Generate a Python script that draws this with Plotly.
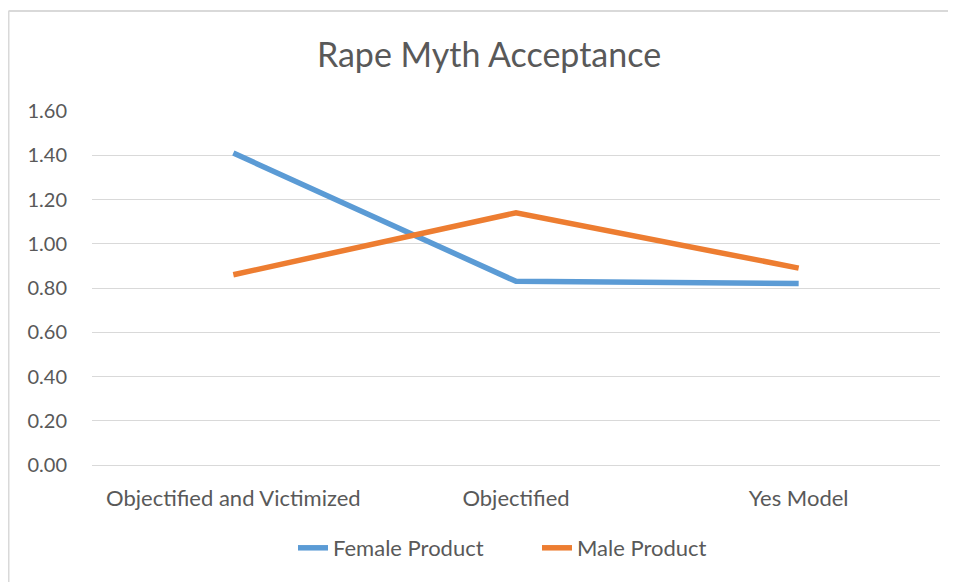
import plotly.graph_objects as go

categories = ["Objectified and Victimized", "Objectified", "Yes Model"]
female_product = [1.41, 0.83, 0.82]
male_product = [0.86, 1.14, 0.89]
y_ticks = [0.0, 0.2, 0.4, 0.6, 0.8, 1.0, 1.2, 1.4, 1.6]

# page body adds an 8px offset; design in screenshot pixels and subtract it
OFF = 8
SW, SH = 956, 582
W, H = SW - OFF, SH - OFF
PL, PR, PT, PB = 92, 940, 111, 465  # plot area in screenshot pixels
L, T = PL - OFF, PT - OFF
R, B = W - (PR - OFF), H - (PB - OFF)
pw, ph = W - L - R, H - T - B

def px_x(x):
    return (x - OFF - L) / pw

def px_y(y):
    return (H - B - (y - OFF)) / ph

FONT = "Lato, Open Sans, sans-serif"
TXT = "#595959"
BORDER = "#d9d9d9"

fig = go.Figure()
fig.add_trace(go.Scatter(x=categories, y=female_product, mode="lines", name="Female Product",
                         line=dict(color="#5b9bd5", width=5.5)))
fig.add_trace(go.Scatter(x=categories, y=male_product, mode="lines", name="Male Product",
                         line=dict(color="#ed7d31", width=5.5)))

fig.update_layout(
    width=W, height=H,
    margin=dict(l=L, r=R, t=T, b=B, pad=0),
    paper_bgcolor="white", plot_bgcolor="white",
    font=dict(family=FONT, color=TXT, size=20),
    title=dict(text="Rape Myth Acceptance", x=(489 - OFF) / W, xanchor="center",
               y=1 - (55 - OFF) / H, yanchor="middle", xref="container", yref="container",
               font=dict(size=34, color=TXT, family=FONT)),
    showlegend=True,
    legend=dict(orientation="h", x=px_x(293), xanchor="left", y=px_y(548), yanchor="middle",
                font=dict(size=22, color=TXT), itemwidth=30, entrywidth=199, entrywidthmode="pixels",
                bgcolor="rgba(0,0,0,0)"),
    xaxis=dict(type="category", range=[-0.5, 2.5], showgrid=False, zeroline=False, showline=False,
               ticks="outside", ticklen=14, tickcolor="rgba(0,0,0,0)",
               tickfont=dict(size=22, color=TXT)),
    yaxis=dict(range=[0, 1.6], tickvals=y_ticks, tickformat=".2f", showgrid=True, gridcolor="#d9d9d9",
               gridwidth=1, zeroline=True, zerolinecolor="#d9d9d9", zerolinewidth=1, showline=False,
               ticks="outside", ticklen=20, tickcolor="rgba(0,0,0,0)",
               tickfont=dict(size=20, color=TXT)),
    shapes=[
        dict(type="line", xref="paper", yref="paper", x0=px_x(8.5), x1=px_x(1000), y0=px_y(11), y1=px_y(11),
             line=dict(color=BORDER, width=2), layer="below"),
        dict(type="line", xref="paper", yref="paper", x0=px_x(8.5), x1=px_x(8.5), y0=px_y(11), y1=px_y(640),
             line=dict(color=BORDER, width=2), layer="below"),
    ],
)

fig.write_html("out.html")
